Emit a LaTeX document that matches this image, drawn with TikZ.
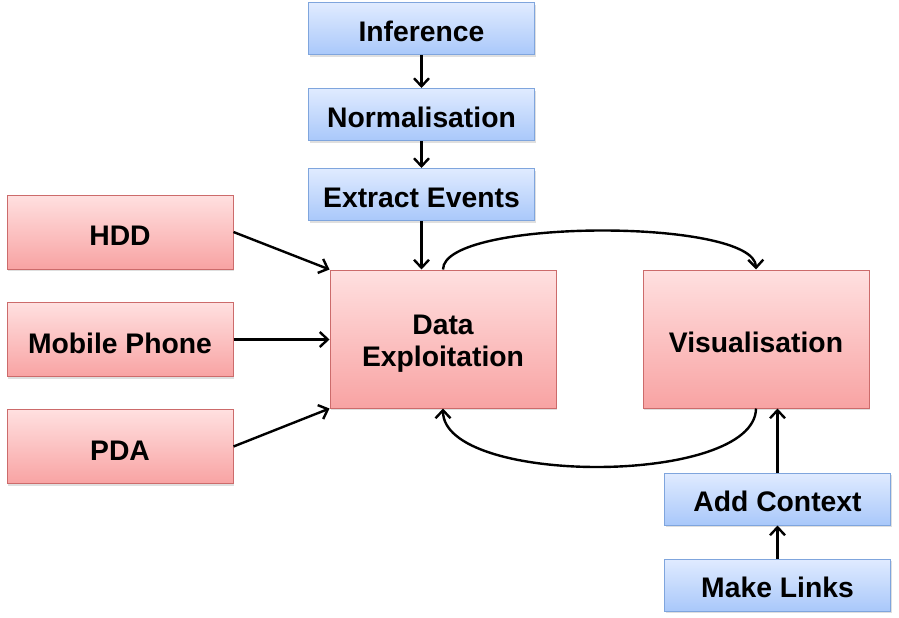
\documentclass[tikz,border=0pt]{standalone}
\usepackage{fontspec}
\setmainfont{Liberation Sans}
\usetikzlibrary{arrows.meta,shadows}
\definecolor{redtop}{HTML}{FFE0E0}
\definecolor{redbot}{HTML}{F8A3A3}
\definecolor{redline}{HTML}{CC6B6B}
\definecolor{bluetop}{HTML}{E0EBFF}
\definecolor{bluebot}{HTML}{A9C8FA}
\definecolor{blueline}{HTML}{7FA5DD}
\tikzset{
  boxfont/.style={font=\fontsize{28.3}{33}\selectfont\bfseries},
  redbox/.style={draw=redline, line width=1pt, top color=redtop, bottom color=redbot,
    minimum width=226pt, minimum height=#1, inner sep=0pt, boxfont,
    drop shadow={shadow xshift=1pt, shadow yshift=-2pt, opacity=0.25}},
  bluebox/.style={draw=blueline, line width=1pt, top color=bluetop, bottom color=bluebot,
    minimum width=226pt, minimum height=52pt, inner sep=0pt, boxfont,
    text height=25pt, text depth=0pt,
    drop shadow={shadow xshift=1pt, shadow yshift=-2pt, opacity=0.25}},
  oneline/.style={text height=27pt, text depth=0pt},
  conn/.style={line width=2.4pt, -{Straight Barb[length=8pt,width=15pt,line width=2.4pt]}}
}
\begin{document}
\begin{tikzpicture}[x=1pt,y=-1pt]
\useasboundingbox (0,0) rectangle (899,618);
\node[bluebox] (inf) at (421.5,29) {Inference};
\node[bluebox] (norm) at (421.5,114.5) {Normalisation};
\node[bluebox] (ext) at (421.5,194.5) {Extract Events};
\node[redbox=74pt, oneline] (hdd) at (120,232) {HDD};
\node[redbox=74pt, oneline] (mob) at (120,339.5) {Mobile Phone};
\node[redbox=74pt, oneline] (pda) at (120,446.5) {PDA};
\node[redbox=138pt, align=center] (data) at (443,339) {\rule{0pt}{28pt}Data\\[-1pt]Exploitation};
\node[redbox=138pt, oneline] (vis) at (756,339) {Visualisation};
\node[bluebox] (ctx) at (777.5,499) {Add Context};
\node[bluebox] (links) at (777.5,585) {Make Links};

\draw[conn] (inf) -- (norm);
\draw[conn] (norm) -- (ext);
\draw[conn] (ext.south) -- (ext.south |- data.north);
\draw[conn] (hdd.east) -- (data.north west);
\draw[conn] (mob.east) -- (mob.east -| data.west);
\draw[conn] (pda.east) -- (data.south west);
\draw[conn] (data.north) .. controls (443,218) and (755,218) .. (vis.north);
\draw[conn] (vis.south) .. controls (755,486) and (443,486) .. (data.south);
\draw[conn] (ctx.north) -- (ctx.north |- vis.south);
\draw[conn] (links) -- (ctx);
\end{tikzpicture}
\end{document}
